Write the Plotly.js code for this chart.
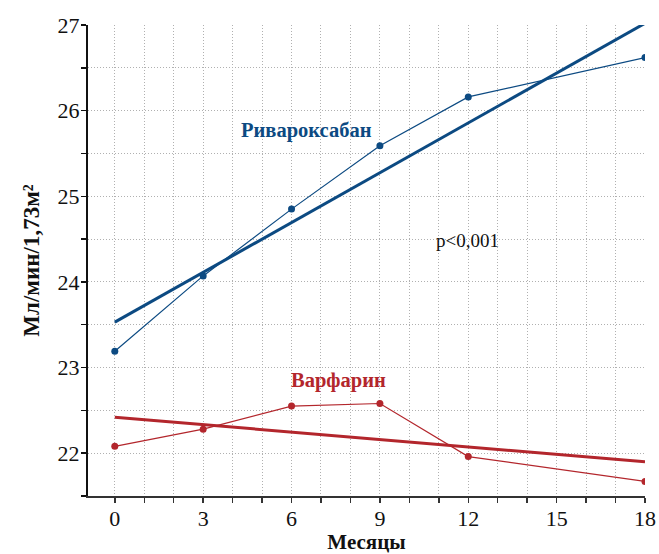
<!DOCTYPE html>
<html>
<head>
<meta charset="utf-8">
<script src="https://cdn.plot.ly/plotly-3.0.1.min.js"></script>
<style>html,body{margin:0;padding:0;background:#fff;}#chart{width:659px;height:554px;}</style>
</head>
<body>
<div id="chart"></div>
<script>
// Data
const months = [0, 3, 6, 9, 12, 18];
const rivaroxaban = [23.19, 24.07, 24.85, 25.59, 26.16, 26.62];
const warfarin = [22.08, 22.28, 22.55, 22.58, 21.96, 21.67];
const trendX = [0, 18];
const rivaroxabanTrend = [23.53, 27.02];
const warfarinTrend = [22.42, 21.9];
const xTicks = [0, 3, 6, 9, 12, 15, 18];
const yTicks = [22, 23, 24, 25, 26, 27];

const blue = '#0c4a82';
const red = '#b3262c';
const font = "'Liberation Serif', 'Times New Roman', serif";
const gridDash = '1px,2px';
const gridColor = '#b0b0b0';

const traces = [
  {x: trendX, y: rivaroxabanTrend, mode: 'lines', line: {color: blue, width: 3}, hoverinfo: 'skip'},
  {x: trendX, y: warfarinTrend, mode: 'lines', line: {color: red, width: 3}, hoverinfo: 'skip'},
  {x: months, y: rivaroxaban, mode: 'lines+markers', line: {color: blue, width: 1.2}, marker: {color: blue, size: 7}},
  {x: months, y: warfarin, mode: 'lines+markers', line: {color: red, width: 1.2}, marker: {color: red, size: 7}}
];

const layout = {
  width: 659, height: 554,
  margin: {l: 88, r: 14, t: 25, b: 58},
  paper_bgcolor: '#fff', plot_bgcolor: '#fff',
  showlegend: false,
  font: {family: font, color: '#111', size: 22},
  xaxis: {
    range: [-0.91, 18], tickvals: xTicks, ticktext: xTicks.map(String),
    showline: true, linecolor: '#333', linewidth: 2,
    ticks: 'outside', ticklen: 5, tickwidth: 1.5, tickcolor: '#333',
    ticklabelstandoff: -3,
    showgrid: true, gridcolor: gridColor, griddash: gridDash, gridwidth: 1,
    minor: {dtick: 1, tick0: 0, ticks: 'outside', ticklen: 5, tickwidth: 1.5, tickcolor: '#333', showgrid: true, gridcolor: gridColor, griddash: gridDash, gridwidth: 1},
    zeroline: false,
    tickfont: {size: 22, family: font, color: '#111'},
    title: {text: '<b>Месяцы</b>', font: {size: 21, family: font, color: '#111'}, standoff: 4}
  },
  yaxis: {
    range: [21.5, 27], tickvals: yTicks, ticktext: yTicks.map(String),
    showline: true, linecolor: '#111', linewidth: 2,
    ticks: 'outside', ticklen: 5, tickwidth: 1.5, tickcolor: '#111',
    ticklabelstandoff: -3,
    showgrid: true, gridcolor: gridColor, griddash: gridDash, gridwidth: 1,
    minor: {dtick: 0.5, tick0: 0, ticks: 'outside', ticklen: 5, tickwidth: 1.5, tickcolor: '#111', showgrid: true, gridcolor: gridColor, griddash: gridDash, gridwidth: 1},
    zeroline: false,
    tickfont: {size: 22, family: font, color: '#111'},
    title: {text: '<b>Мл/мин/1,73м²</b>', font: {size: 23, family: font, color: '#111'}, standoff: 12}
  },
  annotations: [
    {x: 6.52, y: 25.77, text: '<b>Ривароксабан</b>', showarrow: false, font: {size: 20.5, family: font, color: blue}},
    {x: 7.6, y: 22.85, text: '<b>Варфарин</b>', showarrow: false, font: {size: 20.5, family: font, color: red}},
    {x: 11.96, y: 24.48, text: 'p&lt;0,001', showarrow: false, font: {size: 19, family: font, color: '#111'}}
  ]
};

Plotly.newPlot('chart', traces, layout, {displayModeBar: false, staticPlot: true});
</script>
</body>
</html>
